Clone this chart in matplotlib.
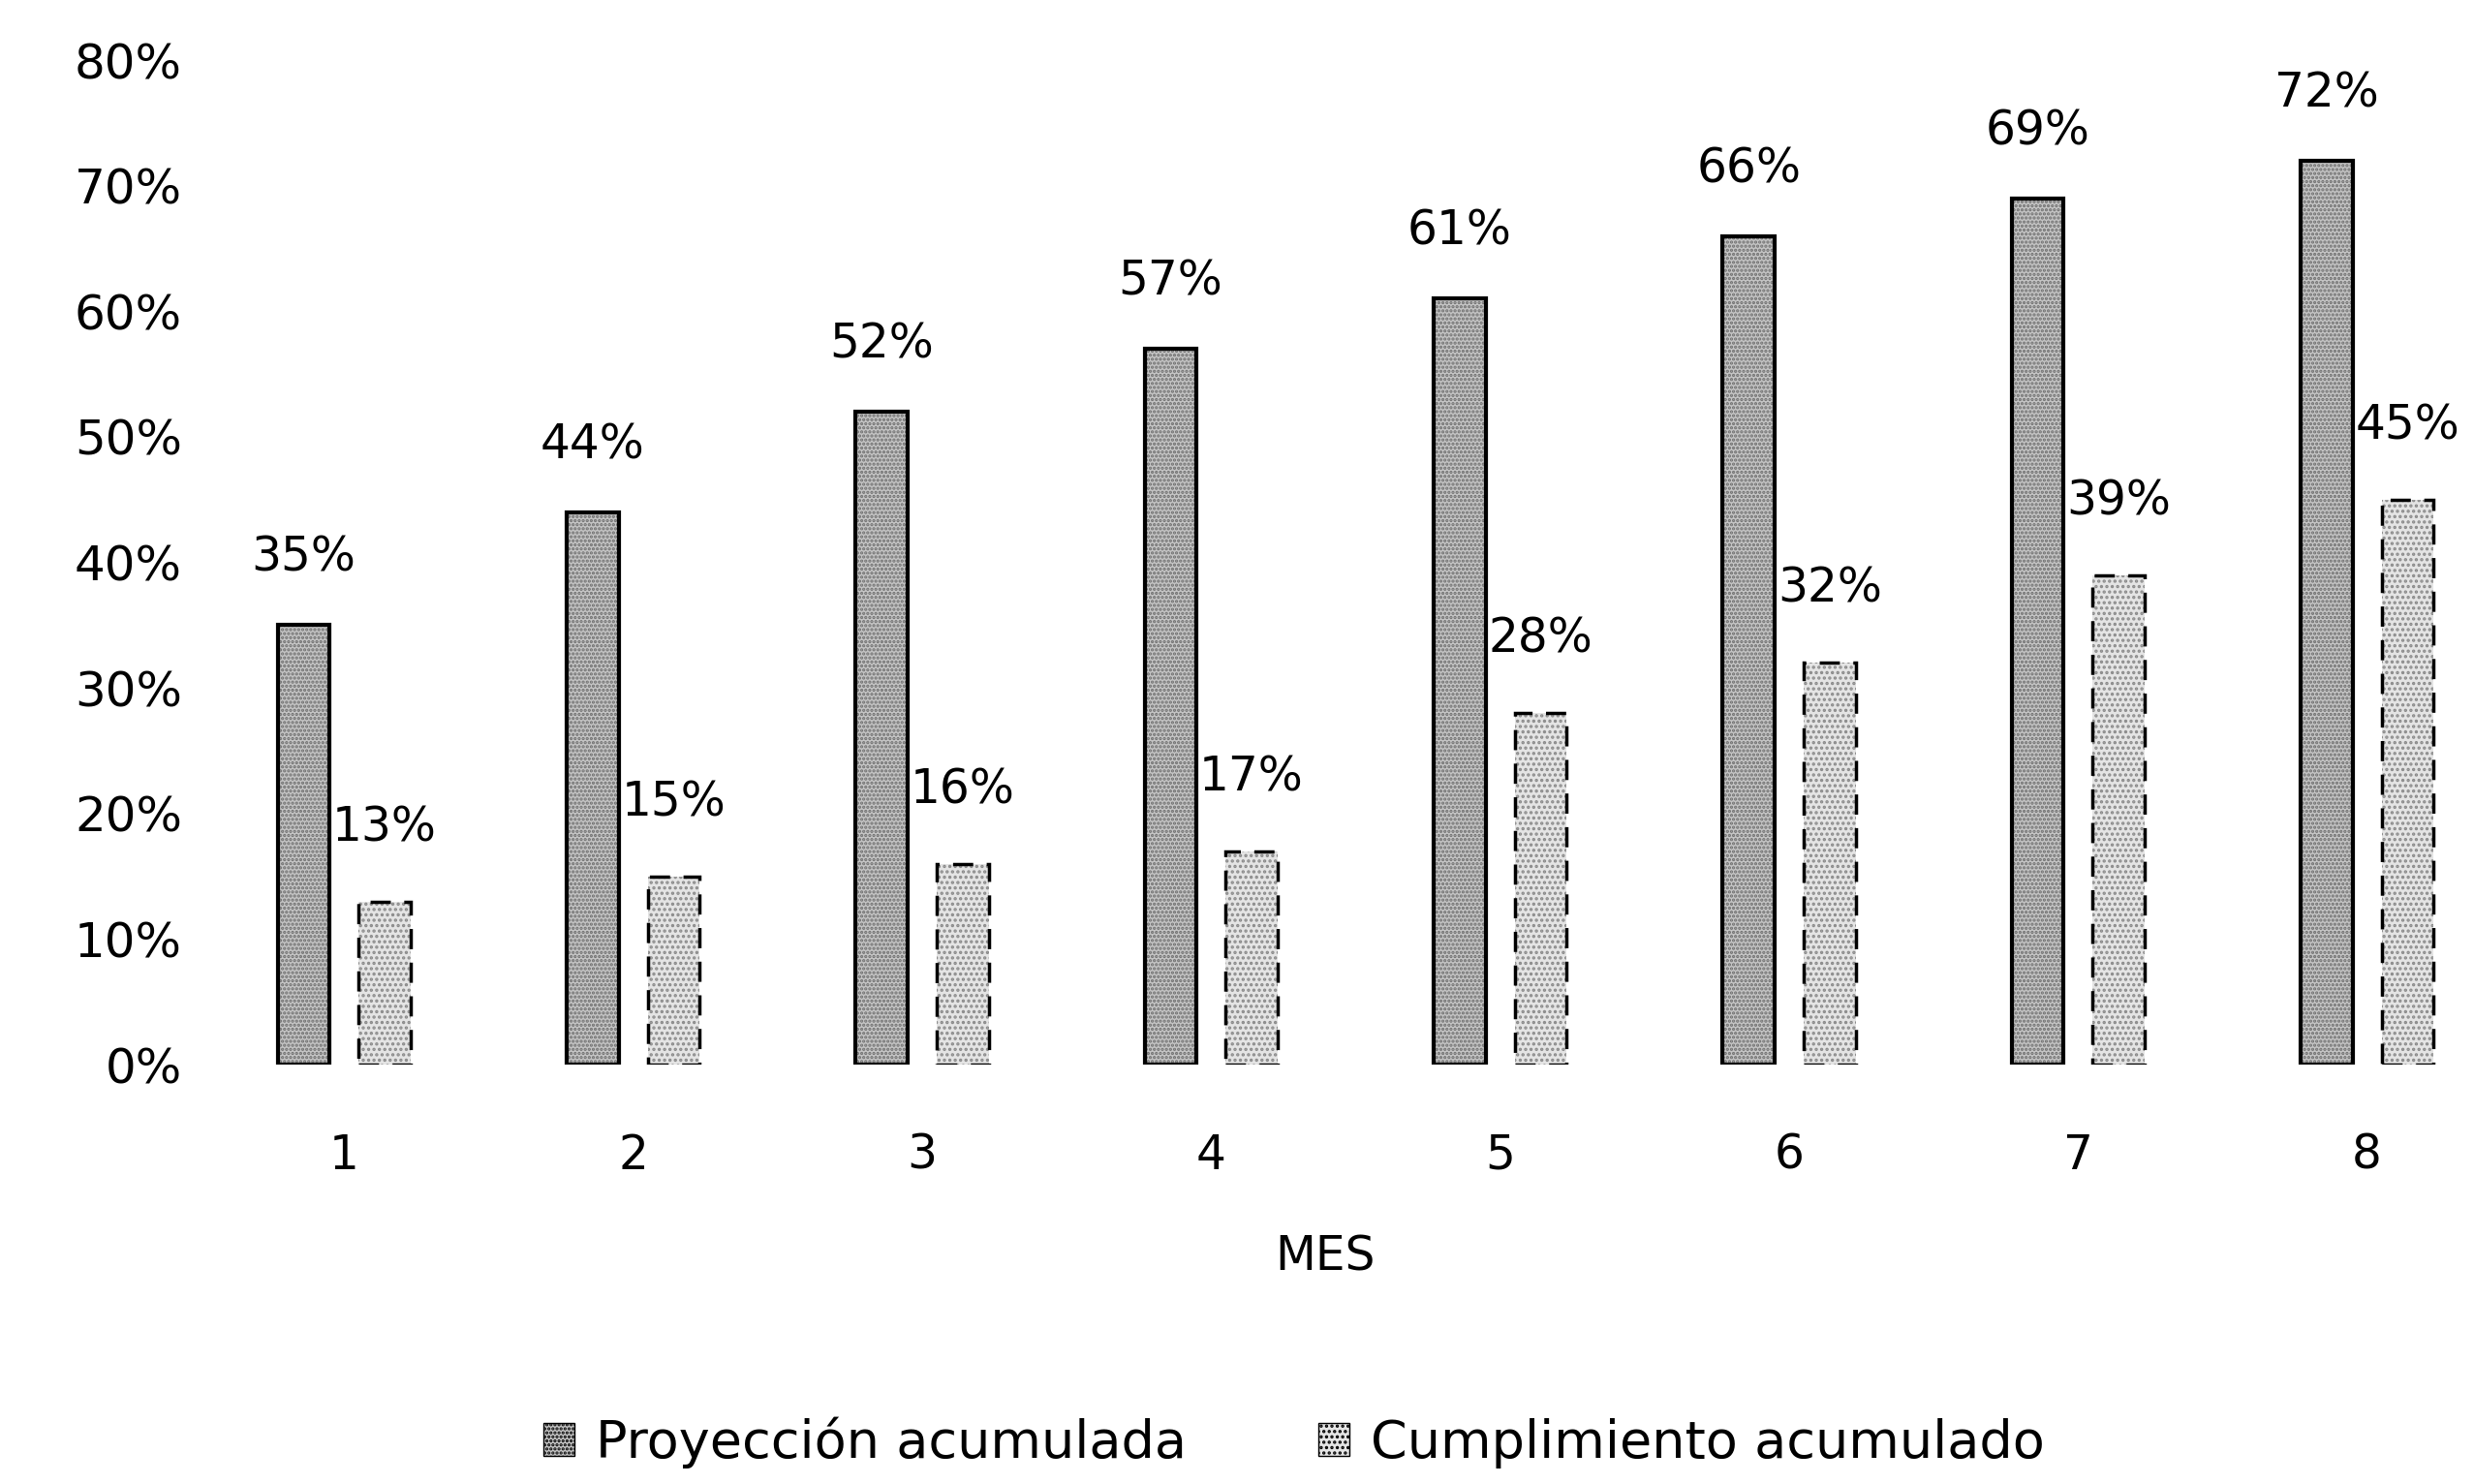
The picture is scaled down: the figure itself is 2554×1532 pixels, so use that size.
import matplotlib
matplotlib.use("Agg")
import matplotlib.pyplot as plt
from matplotlib.ticker import PercentFormatter
from matplotlib.patches import Patch
import numpy as np

# monthly cumulative values (%)
meses = [1, 2, 3, 4, 5, 6, 7, 8]
proyeccion = [35, 44, 52, 57, 61, 66, 69, 72]
cumplimiento = [13, 15, 16, 17, 28, 32, 39, 45]

plt.rcParams['font.family'] = ['DejaVu Sans']
plt.rcParams['hatch.linewidth'] = 1.6

fig = plt.figure(figsize=(25.54, 15.32), dpi=100)
ax = fig.add_axes([0.0807, 0.2826, 0.9193, 0.6769])

x = np.array(meses, dtype=float)
width = 0.18
off = 0.14

# stippled fill first, then the outlines on top
ax.bar(x - off, proyeccion, width, color='#c4c4c4', hatch='....',
       edgecolor='#6e6e6e', linewidth=0)
ax.bar(x - off, proyeccion, width, fill=False, edgecolor='black', linewidth=3)
ax.bar(x + off, cumplimiento, width, color='#e4e4e4', hatch='...',
       edgecolor='#8a8a8a', linewidth=0)
ax.bar(x + off, cumplimiento, width, fill=False, edgecolor='black',
       linewidth=2.5, linestyle=(0, (6, 4)))

for xi, v in zip(x - off, proyeccion):
    ax.annotate(f"{v}%", (xi, v), xytext=(0, 50), textcoords='offset points',
                ha='center', va='center', fontsize=35)
for xi, v in zip(x + off, cumplimiento):
    ax.annotate(f"{v}%", (xi, v), xytext=(0, 55), textcoords='offset points',
                ha='center', va='center', fontsize=35)

ax.set_xlim(0.5, 8.37)
ax.set_ylim(0, 80)
ax.set_yticks(range(0, 81, 10))
ax.yaxis.set_major_formatter(PercentFormatter(xmax=100, decimals=0))
ax.set_xticks(meses)
ax.tick_params(axis='y', length=0, pad=13, labelsize=36)
ax.tick_params(axis='x', length=0, pad=50, labelsize=35)
for s in ax.spines.values():
    s.set_visible(False)

fig.text(840 / 1568, 1 - 797 / 941, "MES", ha='center', va='center', fontsize=35)

handles = [
    Patch(facecolor='#c4c4c4', edgecolor='black', hatch='....', label='Proyección acumulada'),
    Patch(facecolor='#e4e4e4', edgecolor='black', hatch='...', label='Cumplimiento acumulado'),
]
fig.legend(handles=handles, loc='center', bbox_to_anchor=(0.523, 1 - 915 / 941),
           ncol=2, frameon=False, fontsize=39, handlelength=0.6, handleheight=0.6,
           handletextpad=0.4, columnspacing=2.5)

fig.savefig("out.png", dpi=100, facecolor='white')
